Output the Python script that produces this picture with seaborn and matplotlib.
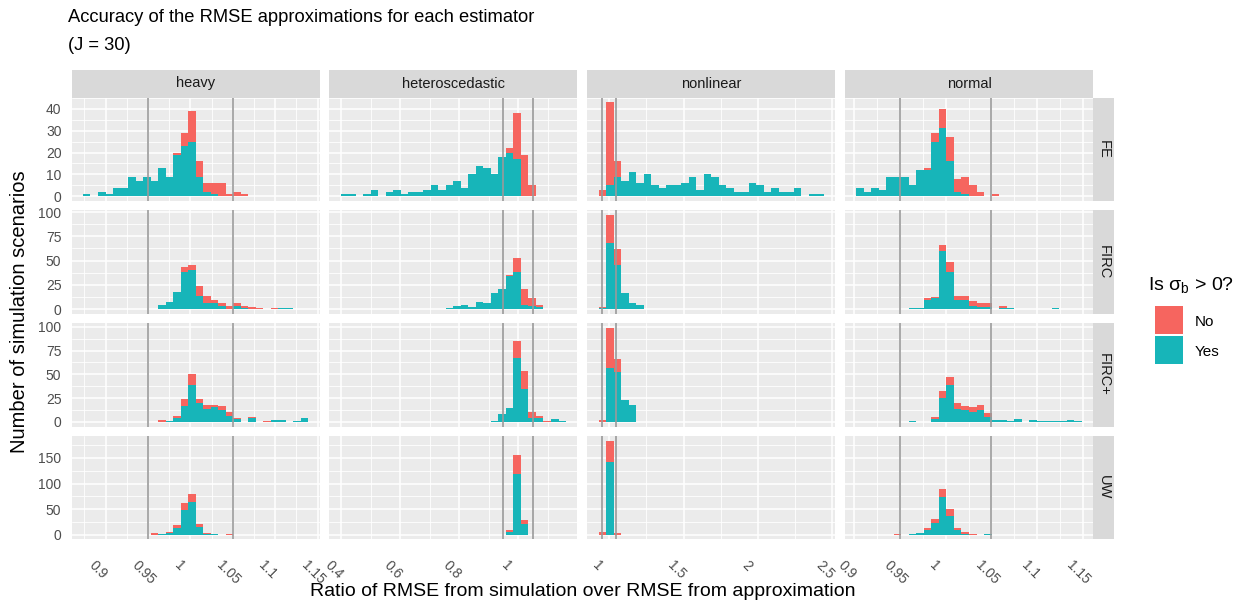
import numpy as np
import pandas as pd
import matplotlib
matplotlib.use("Agg")
import matplotlib.pyplot as plt
from matplotlib.patches import Rectangle
from matplotlib.transforms import ScaledTranslation
import seaborn as sns

# ---------------------------------------------------------------------------
# Histogram counts: 30 bins per panel, split by whether sigma_b > 0
# ---------------------------------------------------------------------------
distributions = ["heavy", "heteroscedastic", "nonlinear", "normal"]
estimators = ["FE", "FIRC", "FIRC+", "UW"]

# left edge of the first bin and bin width for each distribution column
bin_start = [0.8733, 0.3969, 0.9297, 0.9024]
bin_width = [0.008864, 0.02552, 0.05046, 0.008203]

# x-axis breaks and labels per distribution column
x_breaks = [[0.9, 0.95, 1.0, 1.05, 1.1, 1.15],
            [0.4, 0.6, 0.8, 1.0],
            [1.0, 1.5, 2.0, 2.5],
            [0.9, 0.95, 1.0, 1.05, 1.1, 1.15]]
x_labels = [["0.9", "0.95", "1", "1.05", "1.1", "1.15"],
            ["0.4", "0.6", "0.8", "1"],
            ["1", "1.5", "2", "2.5"],
            ["0.9", "0.95", "1", "1.05", "1.1", "1.15"]]
y_breaks = [[0, 10, 20, 30, 40],
            [0, 25, 50, 75, 100],
            [0, 25, 50, 75, 100],
            [0, 50, 100, 150]]
tolerance_lines = [0.95, 1.05]

heavy_fe_yes    = [1,0,2,1,4,4,9,7,9,7,13,9,19,23,25,9,2,1,0,0,0,0,0,0,0,0,0,0,0,0]
heavy_fe_no     = [0,0,0,0,0,0,0,0,0,0,0,0,1,6,14,7,4,5,6,1,2,1,0,0,0,0,0,0,0,0]
heavy_firc_yes  = [0,0,0,0,0,0,0,0,0,0,4,7,18,38,40,14,6,6,3,0,3,1,0,0,0,0,1,1,0,0]
heavy_firc_no   = [0,0,0,0,0,0,0,0,0,0,0,0,0,5,5,10,7,3,3,3,3,2,2,1,0,1,0,0,0,0]
heavy_fircp_yes = [0,0,0,0,0,0,0,0,0,0,0,1,4,17,39,20,14,16,12,6,3,0,4,0,0,2,2,0,1,4]
heavy_fircp_no  = [0,0,0,0,0,0,0,0,0,0,2,0,2,7,11,4,4,2,5,4,1,0,1,0,1,0,0,0,0,0]
heavy_uw_yes    = [0,0,0,0,0,0,0,0,0,0,1,3,13,49,64,15,1,1,0,0,0,0,0,0,0,0,0,0,0,0]
heavy_uw_no     = [0,0,0,0,0,0,0,0,0,4,0,2,5,13,16,5,2,0,0,1,0,0,0,0,0,0,0,0,0,0]

hetero_fe_yes    = [1,1,0,1,3,0,2,3,1,2,2,3,5,3,5,7,4,10,14,13,10,18,20,17,0,0,0,0,0,0]
hetero_fe_no     = [0,0,0,0,0,0,0,0,0,0,0,0,0,0,0,0,0,0,0,0,0,0,2,21,19,5,0,0,0,0]
hetero_firc_yes  = [0,0,0,0,0,0,0,0,0,0,0,0,0,0,1,3,4,2,7,6,17,21,34,38,4,3,2,0,0,0]
hetero_firc_no   = [0,0,0,0,0,0,0,0,0,0,0,0,0,0,0,0,0,0,0,0,0,0,1,15,17,8,2,0,0,0]
hetero_fircp_yes = [0,0,0,0,0,0,0,0,0,0,0,0,0,0,0,0,0,0,0,0,1,8,15,67,35,4,4,0,3,1]
hetero_fircp_no  = [0,0,0,0,0,0,0,0,0,0,0,0,0,0,0,0,0,0,0,0,0,0,0,18,19,6,2,1,0,0]
hetero_uw_yes    = [0,0,0,0,0,0,0,0,0,0,0,0,0,0,0,0,0,0,0,0,0,0,5,118,20,0,0,0,0,0]
hetero_uw_no     = [0,0,0,0,0,0,0,0,0,0,0,0,0,0,0,0,0,0,0,0,0,0,5,37,9,0,0,0,0,0]

nonlin_fe_yes    = [0,5,9,7,11,6,10,5,4,5,5,6,9,3,10,9,5,4,2,2,6,5,2,4,2,2,4,0,1,1]
nonlin_fe_no     = [3,38,7,0,0,0,0,0,0,0,0,0,0,0,0,0,0,0,0,0,0,0,0,0,0,0,0,0,0,0]
nonlin_firc_yes  = [1,68,45,17,6,4,0,0,0,0,0,0,0,0,0,0,0,0,0,0,0,0,0,0,0,0,0,0,0,0]
nonlin_firc_no   = [1,29,17,0,0,0,0,0,0,0,0,0,0,0,0,0,0,0,0,0,0,0,0,0,0,0,0,0,0,0]
nonlin_fircp_yes = [0,57,52,23,18,0,0,0,0,0,0,0,0,0,0,0,0,0,0,0,0,0,0,0,0,0,0,0,0,0]
nonlin_fircp_no  = [2,42,14,0,0,0,0,0,0,0,0,0,0,0,0,0,0,0,0,0,0,0,0,0,0,0,0,0,0,0]
nonlin_uw_yes    = [0,143,0,0,0,0,0,0,0,0,0,0,0,0,0,0,0,0,0,0,0,0,0,0,0,0,0,0,0,0]
nonlin_uw_no     = [5,41,3,0,0,0,0,0,0,0,0,0,0,0,0,0,0,0,0,0,0,0,0,0,0,0,0,0,0,0]

normal_fe_yes    = [4,2,4,3,9,9,9,5,12,12,25,31,16,2,1,0,0,0,0,0,0,0,0,0,0,0,0,0,0,0]
normal_fe_no     = [0,0,0,0,0,0,0,0,0,1,4,9,11,6,8,5,2,0,1,0,0,0,0,0,0,0,0,0,0,0]
normal_firc_yes  = [0,0,0,0,0,0,0,1,1,9,11,60,38,9,9,3,2,2,0,1,1,0,0,0,0,0,1,0,0,0]
normal_firc_no   = [0,0,0,0,0,0,0,0,0,2,1,6,11,5,4,5,4,4,0,2,0,0,0,0,0,0,0,0,0,0]
normal_fircp_yes = [0,0,0,0,0,0,0,1,0,0,3,25,39,14,12,10,12,5,2,2,1,3,0,2,1,1,1,1,2,1]
normal_fircp_no  = [0,0,0,0,0,0,0,0,0,0,2,8,8,6,5,6,6,4,0,0,0,0,0,0,0,0,0,0,0,0]
normal_uw_yes    = [0,0,0,0,0,0,0,1,4,10,22,74,37,9,2,0,0,1,0,0,0,0,0,0,0,0,0,0,0,0]
normal_uw_no     = [0,0,0,0,0,1,0,0,0,4,8,16,13,4,3,2,0,0,0,0,0,0,0,0,0,0,0,0,0,0]

panel_counts = {
    ("heavy", "FE"): (heavy_fe_yes, heavy_fe_no),
    ("heavy", "FIRC"): (heavy_firc_yes, heavy_firc_no),
    ("heavy", "FIRC+"): (heavy_fircp_yes, heavy_fircp_no),
    ("heavy", "UW"): (heavy_uw_yes, heavy_uw_no),
    ("heteroscedastic", "FE"): (hetero_fe_yes, hetero_fe_no),
    ("heteroscedastic", "FIRC"): (hetero_firc_yes, hetero_firc_no),
    ("heteroscedastic", "FIRC+"): (hetero_fircp_yes, hetero_fircp_no),
    ("heteroscedastic", "UW"): (hetero_uw_yes, hetero_uw_no),
    ("nonlinear", "FE"): (nonlin_fe_yes, nonlin_fe_no),
    ("nonlinear", "FIRC"): (nonlin_firc_yes, nonlin_firc_no),
    ("nonlinear", "FIRC+"): (nonlin_fircp_yes, nonlin_fircp_no),
    ("nonlinear", "UW"): (nonlin_uw_yes, nonlin_uw_no),
    ("normal", "FE"): (normal_fe_yes, normal_fe_no),
    ("normal", "FIRC"): (normal_firc_yes, normal_firc_no),
    ("normal", "FIRC+"): (normal_fircp_yes, normal_fircp_no),
    ("normal", "UW"): (normal_uw_yes, normal_uw_no),
}

# ---------------------------------------------------------------------------
# Styling (ggplot2 grey theme look-alike)
# ---------------------------------------------------------------------------
sns.set_theme(style="darkgrid")
plt.rcParams["font.family"] = ["Liberation Sans", "DejaVu Sans"]
plt.rcParams["mathtext.fontset"] = "custom"
plt.rcParams["mathtext.rm"] = "Liberation Sans"
plt.rcParams["mathtext.it"] = "Liberation Sans:italic"

PANEL_BG = "#EBEBEB"
STRIP_BG = "#D9D9D9"
COL_NO = "#F6655F"
COL_YES = "#17B5B9"
TICK_TXT = "#4D4D4D"
palette = {"No": COL_NO, "Yes": COL_YES}

W, H = 1235, 602
fig = plt.figure(figsize=(W / 100, H / 100), dpi=100)
fig.patch.set_facecolor("white")


def px_rect(x0, y0, x1, y1):
    return [x0 / W, 1 - y1 / H, (x1 - x0) / W, (y1 - y0) / H]


col_left = [71.7, 329.3, 587.3, 845.0]
panel_w = 248.0
row_top = [97.5, 210.3, 323.1, 435.9]
panel_h = 103.5
label_shift = ScaledTranslation(-9 / 100, -11 / 100, fig.dpi_scale_trans)

# common y range per estimator row (free y scales)
row_max = []
for est in estimators:
    m = 0
    for dist in distributions:
        yes, no = panel_counts[(dist, est)]
        m = max(m, max(np.array(yes) + np.array(no)))
    row_max.append(m)

for ci, dist in enumerate(distributions):
    lo, bw = bin_start[ci], bin_width[ci]
    hi = lo + 30 * bw
    centers = lo + bw * (np.arange(30) + 0.5)
    span = hi - lo
    xlim = (lo - 0.05 * span, hi + 0.05 * span)
    major = np.array(x_breaks[ci])
    step = major[1] - major[0] if ci in (1, 2) else 0.05
    minor = np.arange(major[0] - step / 2, xlim[1], step)
    minor = minor[(minor > xlim[0]) & (minor < xlim[1])]

    for ri, est in enumerate(estimators):
        ax = fig.add_axes(px_rect(col_left[ci], row_top[ri],
                                  col_left[ci] + panel_w, row_top[ri] + panel_h))
        ax.set_facecolor(PANEL_BG)
        yes, no = panel_counts[(dist, est)]
        df = pd.DataFrame({
            "ratio": np.concatenate([centers, centers]),
            "n": np.concatenate([yes, no]).astype(float),
            "sigma": ["Yes"] * 30 + ["No"] * 30,
        })
        sns.histplot(data=df, x="ratio", weights="n", hue="sigma",
                     hue_order=["No", "Yes"], bins=30, binrange=(lo, hi),
                     multiple="stack", palette=palette, alpha=1, linewidth=0,
                     edgecolor="none", legend=False, ax=ax, zorder=2)
        for v in tolerance_lines:
            ax.axvline(v, color="#9A9A9A", lw=1.2, zorder=3)

        m = row_max[ri]
        ax.set_xlim(*xlim)
        ax.set_ylim(-0.05 * m, 1.05 * m)
        ax.set_xticks(major)
        ax.set_xticks(minor, minor=True)
        yb = np.array(y_breaks[ri])
        ax.set_yticks(yb)
        ystep = yb[1] - yb[0]
        ymin = np.arange(ystep / 2, 1.05 * m, ystep)
        ax.set_yticks(ymin, minor=True)
        ax.grid(which="major", color="white", lw=1.15, zorder=0)
        ax.grid(which="minor", color="white", lw=0.6, zorder=0)
        ax.set_axisbelow(True)
        for s in ax.spines.values():
            s.set_visible(False)
        ax.set_xlabel("")
        ax.set_ylabel("")
        ax.tick_params(which="minor", length=0)
        ax.tick_params(which="major", length=3.0, width=0.8, color="#333333",
                       pad=2.6, labelsize=10, labelcolor=TICK_TXT)
        ax.tick_params(axis="y", which="major", pad=4.4)

        if ri == len(estimators) - 1:
            ax.set_xticklabels(x_labels[ci], rotation=-45, ha="left", va="top",
                               rotation_mode="anchor")
            for lab in ax.get_xticklabels():
                lab.set_transform(lab.get_transform() + label_shift)
        else:
            ax.tick_params(axis="x", length=0, labelbottom=False)
        if ci == 0:
            ax.set_yticklabels([str(v) for v in yb])
        else:
            ax.tick_params(axis="y", length=0, labelleft=False)

        # right-hand strip with the estimator name
        if ci == len(distributions) - 1:
            sax = fig.add_axes(px_rect(1093.3, row_top[ri], 1113.8, row_top[ri] + panel_h))
            sax.set_facecolor(STRIP_BG)
            sax.set_xticks([]); sax.set_yticks([])
            for s in sax.spines.values():
                s.set_visible(False)
            sax.grid(False)
            sax.text(0.5, 0.5, est, rotation=-90, ha="center", va="center",
                     fontsize=10.5, color="#1A1A1A", transform=sax.transAxes)

    # top strip with the distribution name
    tax = fig.add_axes(px_rect(col_left[ci], 69.5, col_left[ci] + panel_w, row_top[0]))
    tax.set_facecolor(STRIP_BG)
    tax.set_xticks([]); tax.set_yticks([])
    for s in tax.spines.values():
        s.set_visible(False)
    tax.grid(False)
    tax.text(0.5, 0.5, dist, ha="center", va="center", fontsize=10.5,
             color="#1A1A1A", transform=tax.transAxes)

# titles
fig.text(68 / W, 1 - 18 / H,
         "Accuracy of the RMSE approximations for each estimator",
         ha="left", va="center", fontsize=13.2, color="black")
fig.text(68 / W, 1 - 45 / H, "(J = 30)",
         ha="left", va="center", fontsize=13.2, color="black")
fig.text(582.5 / W, 1 - 592 / H,
         "Ratio of RMSE from simulation over RMSE from approximation",
         ha="center", va="center", fontsize=14, color="black")
fig.text(20 / W, 1 - 312 / H, "Number of simulation scenarios",
         ha="center", va="center", rotation=90, fontsize=14.5, color="black")

# legend
fig.text(1148 / W, 1 - 285 / H, r"Is $\mathregular{\sigma_b}$ > 0?",
         ha="left", va="center", fontsize=14, color="black")
for i, (lab, col) in enumerate([("No", COL_NO), ("Yes", COL_YES)]):
    y0 = 306 + i * 30
    fig.add_artist(Rectangle((1155 / W, 1 - (y0 + 28) / H), 28 / W, 28 / H,
                             transform=fig.transFigure, facecolor=col,
                             edgecolor="none"))
    fig.text(1195 / W, 1 - (y0 + 16) / H, lab, ha="left", va="center",
             fontsize=11, color="black")

fig.savefig("out.png", dpi=100, facecolor="white")
